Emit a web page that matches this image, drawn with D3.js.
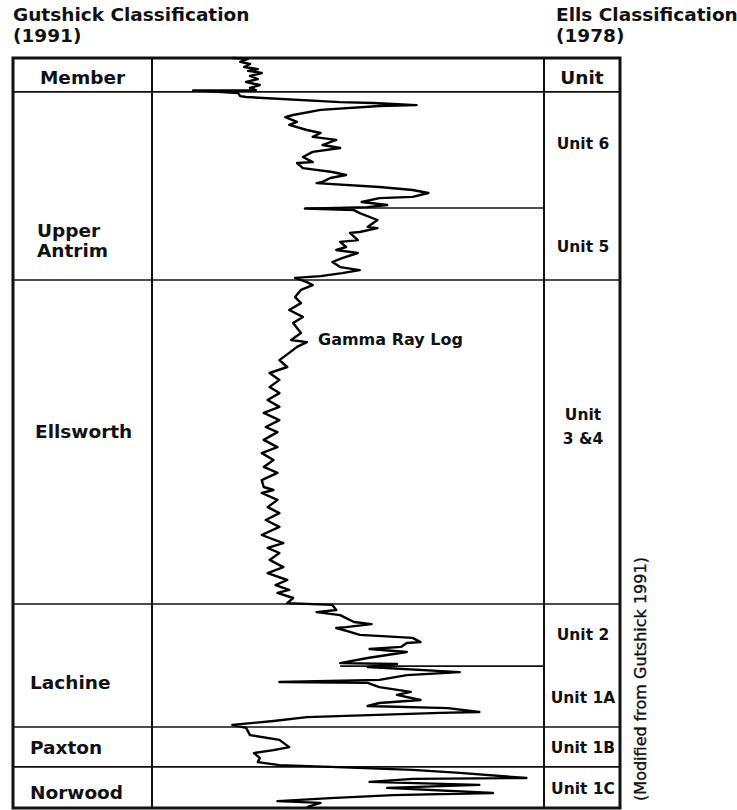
<!DOCTYPE html>
<html>
<head>
<meta charset="utf-8">
<script src="https://cdn.jsdelivr.net/npm/d3@7"></script>
<style>
  body { margin: 0; background: #fff; }
  svg text { font-family: "DejaVu Sans", sans-serif; fill: #111; }
</style>
</head>
<body>
<figure id="log" style="margin:0"></figure>
<script>
// gamma ray log, depth (ft below top of section) and reading (API)
const depthFt = [
  0, 0.3, 1.3, 2, 3, 3.7, 4.3, 5, 6, 7,
  8, 9, 10, 10.7, 10.8, 11.7, 12.7, 13, 14.7, 15,
  15.7, 16, 17.3, 19, 19.7, 21.3, 22.3, 24, 25, 26.3,
  27.3, 29, 30, 31.3, 33, 34.7, 35, 36.7, 38, 39,
  40, 41.3, 41.7, 43, 44, 45, 46.3, 46.7, 48, 49,
  49.7, 50.2, 50.7, 51.7, 54, 56.3, 56.7, 58, 58.3, 60.7,
  61.3, 63, 64, 65, 66.7, 68, 69.7, 70.7, 71.7, 72.7,
  73.3, 74.7, 75.7, 77.3, 79.7, 81.7, 84, 86.3, 88.3, 91.7,
  94, 94.7, 96.3, 98.3, 100.7, 103, 105, 107.3, 109.7, 111.7,
  114, 116.3, 118.3, 120.7, 123, 124.7, 127.3, 129.7, 131.7, 134,
  136.3, 138.3, 140.7, 143, 144, 145, 147.3, 149.7, 151.7, 154,
  156.3, 159, 161.7, 163.3, 165, 167.3, 169.7, 171.7, 174, 175.7,
  177.3, 178.3, 180, 181.7, 182.3, 184, 184.7, 185.7, 188, 188.7,
  189.7, 190, 191.3, 192.3, 193.3, 194.7, 195, 196.3, 197, 198,
  199, 200, 201.7, 202, 203, 204.7, 205.7, 207.3, 208, 208.3,
  209.7, 211.3, 212.3, 214, 215, 216, 216.7, 218, 218.3, 219.3,
  219.7, 221, 222.3, 223.3, 225.7, 227.3, 229.7, 230.7, 231.7, 233.3,
  234.7, 235.7, 236.3, 237.3, 238.3, 240, 240.3, 241.3, 242.3, 243.3,
  245, 245.7, 246.7, 247.7, 248.3, 249.7
];
const gammaApi = [
  41, 49, 45, 50, 47, 54, 49, 56, 50, 54,
  48, 55, 50, 53, 21, 44, 45, 48, 96, 113,
  135, 116, 86, 72, 68, 74, 70, 79, 86, 82,
  94, 87, 96, 82, 77, 82, 74, 77, 92, 99,
  91, 87, 84, 116, 133, 141, 133, 116, 107, 120,
  110, 78, 103, 106, 115, 110, 115, 106, 101, 105,
  96, 99, 94, 105, 97, 92, 96, 106, 97, 86,
  73, 79, 82, 76, 73, 76, 70, 77, 72, 76,
  71, 79, 74, 70, 65, 69, 60, 65, 60, 65,
  59, 65, 57, 65, 58, 64, 57, 64, 56, 62,
  57, 64, 56, 57, 62, 56, 64, 59, 65, 58,
  65, 56, 67, 59, 65, 60, 67, 59, 69, 63,
  70, 64, 72, 69, 92, 94, 84, 96, 103, 112,
  99, 94, 101, 106, 133, 137, 130, 127, 111, 130,
  120, 110, 96, 125, 110, 157, 130, 116, 65, 110,
  116, 132, 125, 137, 116, 110, 151, 167, 147, 99,
  79, 62, 41, 48, 50, 65, 70, 62, 52, 55,
  54, 65, 91, 133, 157, 191, 133, 111, 167, 120,
  174, 123, 91, 64, 86, 79
];

// Gutshick (1991) members, base depth of each
const headerBase = 11.3;
const memberNames = [["Upper", "Antrim"], ["Ellsworth"], ["Lachine"], ["Paxton"], ["Norwood"]];
const memberBase = [74, 182, 223, 236.3, 250];

// Ells (1978) units, base depth of each
const unitNames = [["Unit 6"], ["Unit 5"], ["Unit", "3 &4"], ["Unit 2"], ["Unit 1A"], ["Unit 1B"], ["Unit 1C"]];
const unitBase = [50, 74, 182, 202.7, 223, 236.3, 250];

const W = 737, H = 810;
const xLeft = 13, colA = 152, colB = 544, xRight = 620;
const yTop = 58, yBottom = 808;

const svg = d3.select("figure#log")
  .append("svg")
  .attr("width", W)
  .attr("height", H);

const y = d3.scaleLinear().domain([0, 250]).range([yTop, yBottom]);
const x = d3.scaleLinear().domain([0, 200]).range([colA, colB]);

// headings
const heads = svg.append("g").attr("font-weight", "bold").attr("font-size", "18.5px");
heads.append("text").attr("x", 13).attr("y", 21).text("Gutshick Classification");
heads.append("text").attr("x", 13).attr("y", 42).text("(1991)");
heads.append("text").attr("x", 556).attr("y", 21).text("Ells Classification");
heads.append("text").attr("x", 556).attr("y", 42).text("(1978)");

// boundaries
const lines = svg.append("g").attr("stroke", "#111").attr("fill", "none");
const full = [headerBase].concat(memberBase.slice(0, -1));
lines.selectAll(".full")
  .data(full)
  .enter()
  .append("line")
  .attr("x1", xLeft).attr("x2", xRight)
  .attr("y1", d => y(d)).attr("y2", d => y(d))
  .attr("stroke-width", 1.6);

// Ells boundaries that are not Gutshick boundaries start at the log trace
const ellsOnly = unitBase.slice(0, -1).filter(d => full.indexOf(d) < 0);
lines.selectAll(".part")
  .data(ellsOnly)
  .enter()
  .append("line")
  .attr("x1", d => {
    const near = gammaApi.filter((g, i) => Math.abs(depthFt[i] - d) < 1.2);
    return x(d3.min(near));
  })
  .attr("x2", colB)
  .attr("y1", d => y(d)).attr("y2", d => y(d))
  .attr("stroke-width", 1.6);

lines.append("line").attr("x1", colA).attr("x2", colA).attr("y1", yTop).attr("y2", yBottom).attr("stroke-width", 2);
lines.append("line").attr("x1", colB).attr("x2", colB).attr("y1", yTop).attr("y2", yBottom).attr("stroke-width", 2);
lines.append("rect")
  .attr("x", xLeft).attr("y", yTop)
  .attr("width", xRight - xLeft).attr("height", yBottom - yTop)
  .attr("stroke-width", 3);

// gamma ray trace
const pts = depthFt.map((d, i) => [gammaApi[i], d]);
svg.append("path")
  .datum(pts)
  .attr("fill", "none")
  .attr("stroke", "#000")
  .attr("stroke-width", 2.4)
  .attr("stroke-linejoin", "round")
  .attr("d", d3.line().x(d => x(d[0])).y(d => y(d[1])));

svg.append("text")
  .attr("x", 318).attr("y", 345)
  .attr("font-weight", "bold").attr("font-size", "16px")
  .text("Gamma Ray Log");

// column labels
const lab = svg.append("g").attr("font-weight", "bold");
lab.append("text").attr("x", (xLeft + colA) / 2).attr("y", 84)
  .attr("text-anchor", "middle").attr("font-size", "18.5px").text("Member");
lab.append("text").attr("x", (colB + xRight) / 2).attr("y", 84)
  .attr("text-anchor", "middle").attr("font-size", "18.5px").text("Unit");

// where each member name sits inside its interval (fraction), and its indent
const memberAt = [0.79, 0.466, 0.634, 0.5, 0.62];
const memberIndent = [24, 22, 17, 17, 17];
const memTops = [headerBase].concat(memberBase.slice(0, -1));
memberNames.forEach((lns, i) => {
  const mid = y(memTops[i]) + (y(memberBase[i]) - y(memTops[i])) * memberAt[i];
  const lh = 20, fs = 18.5;
  lns.forEach((t, j) => {
    lab.append("text")
      .attr("x", xLeft + memberIndent[i])
      .attr("y", mid + (j - (lns.length - 1) / 2) * lh + fs * 0.36)
      .attr("font-size", fs + "px")
      .text(t);
  });
});

const unitNudge = [-7, 2, -16, -1, 1, 0, 1];
const unitTops = [headerBase].concat(unitBase.slice(0, -1));
unitNames.forEach((lns, i) => {
  const mid = (y(unitTops[i]) + y(unitBase[i])) / 2 + unitNudge[i];
  const lh = 24, fs = 15.5;
  lns.forEach((t, j) => {
    lab.append("text")
      .attr("x", (colB + xRight) / 2 + 1)
      .attr("y", mid + (j - (lns.length - 1) / 2) * lh + fs * 0.36)
      .attr("text-anchor", "middle")
      .attr("font-size", fs + "px")
      .text(t);
  });
});

svg.append("text")
  .attr("transform", "translate(646," + 679 + ") rotate(-90)")
  .attr("text-anchor", "middle")
  .attr("font-size", "16px")
  .attr("stroke", "#111")
  .attr("stroke-width", 0.35)
  .text("(Modified from Gutshick 1991)");
</script>
</body>
</html>
